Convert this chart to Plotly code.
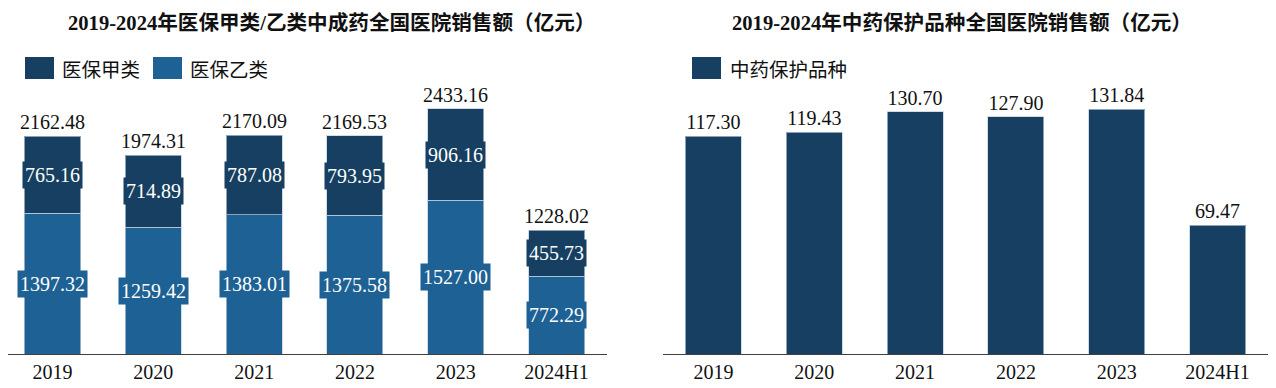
import plotly.graph_objects as go
from plotly.subplots import make_subplots

years = ["2019", "2020", "2021", "2022", "2023", "2024H1"]
class_a = [765.16, 714.89, 787.08, 793.95, 906.16, 455.73]
class_b = [1397.32, 1259.42, 1383.01, 1375.58, 1527.00, 772.29]
totals = [2162.48, 1974.31, 2170.09, 2169.53, 2433.16, 1228.02]
protected = [117.30, 119.43, 130.70, 127.90, 131.84, 69.47]

title_left = "2019-2024年医保甲类/乙类中成药全国医院销售额（亿元）"
title_right = "2019-2024年中药保护品种全国医院销售额（亿元）"
name_a = "医保甲类"
name_b = "医保乙类"
name_p = "中药保护品种"

DARK = "#163f61"
BLUE = "#1e6194"
EDGE = "rgba(190,205,220,0.7)"
FONT = "Liberation Serif, Times New Roman, Noto Sans CJK SC, serif"
CJK = "Noto Sans CJK SC, Liberation Serif, sans-serif"

# page body has an 8px default margin: work in screen pixels, convert to figure pixels
OFF = 8
W, H = 1276 - OFF, 388 - OFF
BASE = 354 - OFF      # baseline (figure px)
TOP = 40 - OFF        # plot area top (figure px)
ML, MR = 0, 8
MT, MB = TOP, H - BASE
PW = W - ML - MR
PH = H - MT - MB


def px_x(sx):
    return (sx - OFF - ML) / PW


def px_y(sy):
    return (BASE - (sy - OFF)) / PH


fig = make_subplots(rows=1, cols=2)

fig.add_trace(go.Bar(x=years, y=class_b, name=name_b, marker=dict(color=BLUE, line=dict(color=EDGE, width=1)),
                     showlegend=False), row=1, col=1)
fig.add_trace(go.Bar(x=years, y=class_a, name=name_a, marker=dict(color=DARK, line=dict(color=EDGE, width=1)),
                     showlegend=False), row=1, col=1)
fig.add_trace(go.Bar(x=years, y=protected, name=name_p, marker=dict(color=DARK, line=dict(color=EDGE, width=1)),
                     texttemplate="%{y:.2f}", textposition="outside", cliponaxis=False,
                     textfont=dict(family=FONT, size=20, color="#111111"),
                     showlegend=False), row=1, col=2)

annotations = []
for i, yr in enumerate(years):
    b = class_b[i]
    a = class_a[i]
    annotations.append(dict(x=i, y=b / 2, xref="x", yref="y", text=f"{b:.2f}", showarrow=False,
                            font=dict(family=FONT, size=20, color="white"), bgcolor=BLUE, borderpad=2))
    annotations.append(dict(x=i, y=b + a / 2, xref="x", yref="y", text=f"{a:.2f}", showarrow=False,
                            font=dict(family=FONT, size=20, color="white"), bgcolor=DARK, borderpad=2))
    annotations.append(dict(x=i, y=totals[i], xref="x", yref="y", text=f"{totals[i]:.2f}", showarrow=False,
                            yanchor="bottom", yshift=1,
                            font=dict(family=FONT, size=20, color="#111111")))

# titles
annotations.append(dict(x=px_x(331), y=px_y(22), xref="paper", yref="paper", text=f"<b>{title_left}</b>",
                        showarrow=False, font=dict(family=FONT, size=20.6, color="#111111"), xanchor="center",
                        yanchor="middle"))
annotations.append(dict(x=px_x(962), y=px_y(22), xref="paper", yref="paper", text=f"<b>{title_right}</b>",
                        showarrow=False, font=dict(family=FONT, size=20.6, color="#111111"), xanchor="center",
                        yanchor="middle"))

# legends drawn as shapes + text
shapes = []
legend_items = [(25, 54, DARK, 60, name_a), (153, 182, BLUE, 188, name_b), (692, 721, DARK, 728, name_p)]
for x0, x1, col, tx, label in legend_items:
    shapes.append(dict(type="rect", xref="paper", yref="paper", x0=px_x(x0), x1=px_x(x1), y0=px_y(79),
                       y1=px_y(57), fillcolor=col, line=dict(width=0)))
    annotations.append(dict(x=px_x(tx), y=px_y(69), xref="paper", yref="paper", text=label, showarrow=False,
                            xanchor="left", yanchor="middle",
                            font=dict(family=CJK, size=19.5, color="#111111")))

fig.update_layout(
    width=W, height=H, margin=dict(l=ML, r=MR, t=MT, b=MB),
    barmode="stack", bargap=0.444,
    plot_bgcolor="white", paper_bgcolor="white",
    annotations=annotations, shapes=shapes,
    showlegend=False,
)
fig.update_xaxes(type="category", showline=True, linecolor="#404040", linewidth=1, showgrid=False, ticks="",
                 tickfont=dict(family=FONT, size=20, color="#111111"))
fig.update_layout(xaxis=dict(domain=[px_x(8), px_x(607)], range=[-0.4415, 5.5]),
                  xaxis2=dict(domain=[px_x(663), px_x(1268)]))
fig.update_yaxes(visible=False, showgrid=False)
fig.update_layout(yaxis=dict(range=[0, PH / 0.1007]), yaxis2=dict(range=[0, PH / 1.855]))

fig.write_html("out.html")
